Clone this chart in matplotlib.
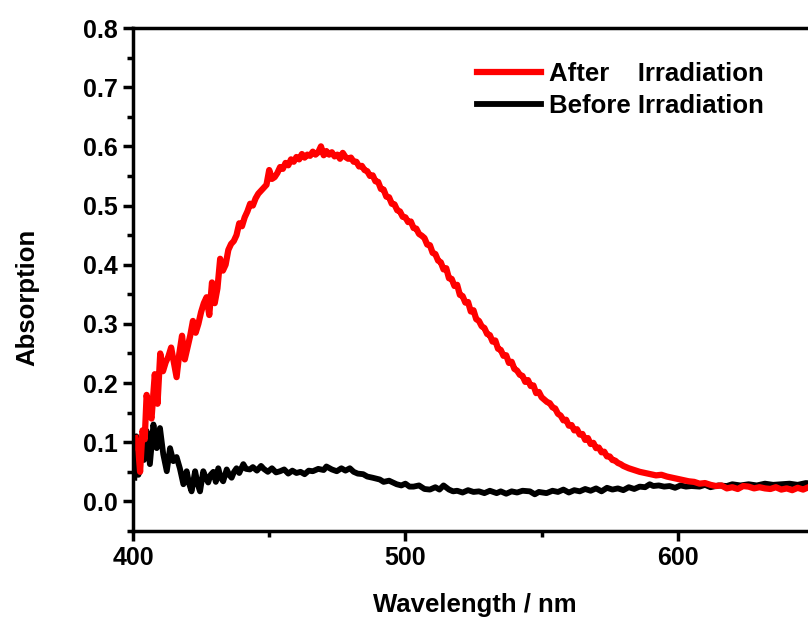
import matplotlib
matplotlib.use("Agg")
import matplotlib.pyplot as plt
from matplotlib.ticker import MultipleLocator

plt.rcParams['font.family'] = ['Liberation Sans', 'DejaVu Sans']
plt.rcParams['font.weight'] = 'bold'

# After irradiation (red), in three pieces
wl_after_a = [401, 402, 402.6, 403.5, 404.3, 405, 406, 406.8, 408, 409, 410, 411, 412, 413, 414,
              415, 416, 417, 418, 419, 420, 421, 422, 423, 424, 425, 426, 427, 428, 429,
              430, 431, 432, 433, 434, 435, 436, 437, 438, 439, 440, 441, 442, 443, 444,
              445, 446, 447, 448, 449, 450, 451, 452, 453, 454]
abs_after_a = [0.107, 0.085, 0.05, 0.12, 0.105, 0.18, 0.15, 0.14, 0.215, 0.165, 0.25, 0.22, 0.235,
               0.245, 0.26,
               0.235, 0.21, 0.25, 0.28, 0.24, 0.26, 0.28, 0.305, 0.285, 0.30,
               0.32, 0.335, 0.345, 0.315, 0.37, 0.335, 0.36, 0.41, 0.39, 0.40,
               0.425, 0.435, 0.44, 0.45, 0.47, 0.465, 0.48, 0.49, 0.503, 0.50,
               0.512, 0.52, 0.525, 0.53, 0.535, 0.56, 0.545, 0.548, 0.555, 0.565]

wl_after_b = list(range(455, 581))  # 1 nm steps
abs_after_b = [0.562, 0.572, 0.568, 0.578, 0.574, 0.582, 0.578, 0.587, 0.581, 0.586,
               0.584, 0.591, 0.586, 0.59, 0.60, 0.585, 0.592, 0.586, 0.59, 0.583,
               0.586, 0.579, 0.589, 0.582, 0.579, 0.581, 0.574, 0.574, 0.566, 0.567,
               0.56, 0.558, 0.55, 0.551, 0.541, 0.54, 0.528, 0.527, 0.515, 0.514,
               0.503, 0.502, 0.492, 0.49, 0.481, 0.48, 0.472, 0.473, 0.462, 0.461,
               0.452, 0.449, 0.445, 0.434, 0.433, 0.42, 0.418, 0.407, 0.404, 0.392,
               0.394, 0.377, 0.376, 0.364, 0.366, 0.349, 0.347, 0.336, 0.337, 0.321,
               0.323, 0.308, 0.305, 0.296, 0.293, 0.283, 0.281, 0.27, 0.272, 0.258,
               0.256, 0.246, 0.247, 0.234, 0.236, 0.224, 0.221, 0.214, 0.212, 0.202,
               0.205, 0.195, 0.196, 0.183, 0.185, 0.176, 0.172, 0.168, 0.166, 0.159,
               0.157, 0.148, 0.145, 0.137, 0.138, 0.128, 0.129, 0.12, 0.122, 0.113,
               0.114, 0.104, 0.107, 0.097, 0.099, 0.09, 0.091, 0.083, 0.084, 0.076,
               0.076, 0.07, 0.069, 0.065, 0.063, 0.06]

wl_after_c = list(range(582, 651, 2))  # 2 nm steps
abs_after_c = [0.056, 0.053, 0.05, 0.048, 0.046, 0.044, 0.045, 0.042, 0.04, 0.038,
               0.036, 0.034, 0.033, 0.03, 0.031, 0.028, 0.026, 0.027, 0.022, 0.024,
               0.021, 0.026, 0.025, 0.022, 0.024, 0.022, 0.021, 0.024, 0.02, 0.022,
               0.019, 0.023, 0.02, 0.024, 0.022]

# Before irradiation (black)
wl_before = [400.5, 401.2, 402, 403, 404, 405, 406.2, 407.5, 408.7, 409.9, 411.1, 412.4, 413.6,
             414.8, 416, 417.2, 418.5, 419.7, 420.6, 421.5, 422.8, 423.7, 424.6, 425.8, 426.7,
             427.6, 428.5, 429.5, 430.4, 431.3, 432.2, 433.1, 434.4, 435.3, 436.2, 437.1, 438,
             439, 440.5, 441.5, 442.9, 444, 445.5, 447, 448, 449.5, 451, 452.5, 454, 455.5, 457,
             458.5, 460, 461.5, 463, 464.5, 466, 468, 470, 471, 473, 474.8, 476.5, 478, 479.6,
             481, 482.5, 484.5, 486, 488, 490.6, 492, 494, 496.8, 498.5, 500, 501.5, 503, 505,
             507, 509, 511, 512.5, 514, 516, 517.5, 519, 521, 523, 525, 527, 529, 531, 533.5,
             535, 537, 539, 541, 543, 545.7, 547.5, 549, 551.8, 554, 556, 558, 560, 562, 564,
             566, 568, 570, 572, 574, 576, 578, 580, 582, 584, 586, 588, 589.7, 591, 593, 595,
             597, 599, 601, 603, 605, 608, 610, 612, 615, 618, 620, 623, 626, 629, 632, 635,
             638, 641, 644, 647, 650]
abs_before = [0.04, 0.11, 0.045, 0.097, 0.07, 0.119, 0.063, 0.13, 0.09, 0.124, 0.08, 0.051, 0.09,
              0.068, 0.075, 0.056, 0.029, 0.051, 0.03, 0.017, 0.051, 0.03, 0.017, 0.051, 0.04,
              0.032, 0.045, 0.05, 0.033, 0.056, 0.04, 0.034, 0.054, 0.045, 0.04, 0.05, 0.056,
              0.048, 0.063, 0.055, 0.054, 0.058, 0.052, 0.06, 0.055, 0.05, 0.056, 0.049, 0.051,
              0.054, 0.047, 0.052, 0.048, 0.05, 0.046, 0.052, 0.051, 0.055, 0.053, 0.059, 0.054,
              0.051, 0.056, 0.052, 0.056, 0.05, 0.047, 0.046, 0.042, 0.04, 0.037, 0.033, 0.035,
              0.029, 0.027, 0.03, 0.025, 0.025, 0.027, 0.021, 0.02, 0.024, 0.02, 0.027, 0.02,
              0.017, 0.018, 0.015, 0.019, 0.016, 0.017, 0.014, 0.018, 0.014, 0.017, 0.013, 0.017,
              0.015, 0.018, 0.017, 0.012, 0.016, 0.014, 0.018, 0.016, 0.02, 0.015, 0.019, 0.017,
              0.021, 0.018, 0.022, 0.017, 0.023, 0.02, 0.022, 0.019, 0.024, 0.021, 0.025, 0.024,
              0.029, 0.026, 0.027, 0.025, 0.026, 0.023, 0.027, 0.025, 0.026, 0.025, 0.028, 0.024,
              0.027, 0.026, 0.029, 0.027, 0.029, 0.027, 0.03, 0.028, 0.029, 0.03, 0.028, 0.031,
              0.03]

wl_after = wl_after_a + wl_after_b + wl_after_c
abs_after = abs_after_a + abs_after_b + abs_after_c

fig = plt.figure(figsize=(8.08, 6.19), dpi=100)
ax = fig.add_axes([133 / 808, (619 - 531) / 619, 681 / 808, 503 / 619])

lb, = ax.plot(wl_before, abs_before, color='black', lw=4.2)
lr, = ax.plot(wl_after, abs_after, color='red', lw=4.5)

ax.set_xlim(400, 650)
ax.set_ylim(-0.05, 0.8)
ax.xaxis.set_major_locator(MultipleLocator(100))
ax.xaxis.set_minor_locator(MultipleLocator(50))
ax.yaxis.set_major_locator(MultipleLocator(0.1))
ax.yaxis.set_minor_locator(MultipleLocator(0.05))
ax.yaxis.set_major_formatter(plt.FormatStrFormatter('%.1f'))

for s in ax.spines.values():
    s.set_linewidth(2.5)
ax.spines['right'].set_visible(False)
ax.tick_params(which='major', direction='out', length=7, width=2.5, labelsize=18, pad=4)
ax.tick_params(which='minor', direction='out', length=4, width=2.5)

ax.set_xlabel('Wavelength / nm', fontsize=18.5, fontweight='bold')
ax.set_ylabel('Absorption', fontsize=18.5, fontweight='bold')
ax.xaxis.set_label_coords(0.502, -0.123)
ax.yaxis.set_label_coords(-0.137, 0.464)
ax.xaxis.label.set_va('top')

ax.legend([lr, lb], ['After    Irradiation', 'Before Irradiation'], frameon=False,
          loc='upper left', bbox_to_anchor=(477 / 808, 1 - 62 / 619),
          bbox_transform=fig.transFigure, borderpad=0, borderaxespad=0,
          handlelength=2.5, handletextpad=0.3, labelspacing=0.3,
          prop={'size': 18.5, 'weight': 'bold'})

fig.savefig('out.png', dpi=100)
